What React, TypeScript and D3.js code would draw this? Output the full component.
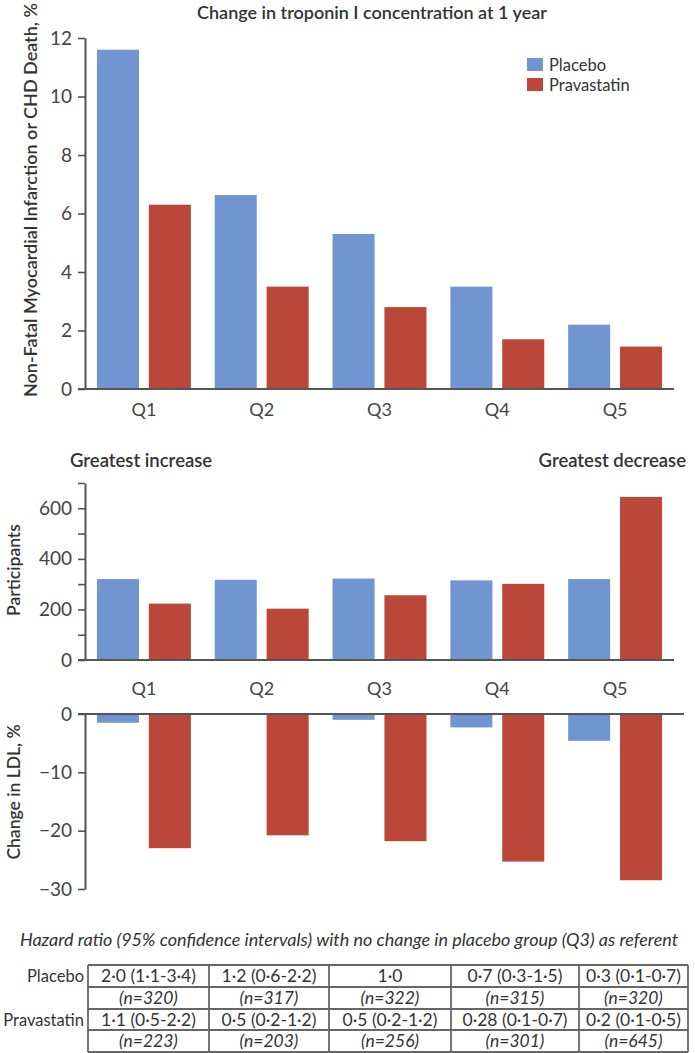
import React, { useEffect, useRef } from 'react';
import * as d3 from 'd3';

// quartiles of change in troponin I
const quartiles = ['Q1', 'Q2', 'Q3', 'Q4', 'Q5'];
const groups = ['Placebo', 'Pravastatin'];

// Non-fatal MI or CHD death, %
const eventPlacebo = [11.6, 6.63, 5.3, 3.5, 2.2];
const eventPrava = [6.3, 3.5, 2.8, 1.7, 1.45];

// participants
const nPlacebo = [320, 317, 322, 315, 320];
const nPrava = [223, 203, 256, 301, 645];

// change in LDL, %
const ldlPlacebo = [-1.5, 0, -1.0, -2.3, -4.6];
const ldlPrava = [-23.0, -20.8, -21.8, -25.3, -28.5];

// hazard ratio table
const hrPlacebo = ['2·0 (1·1-3·4)', '1·2 (0·6-2·2)', '1·0', '0·7 (0·3-1·5)', '0·3 (0·1-0·7)'];
const hrPrava = ['1·1 (0·5-2·2)', '0·5 (0·2-1·2)', '0·5 (0·2-1·2)', '0·28 (0·1-0·7)', '0·2 (0·1-0·5)'];

const BLUE = '#7195d1';
const RED = '#ba4737';
const AXIS = '#555';
const TEXT = '#333';
const FONT = 'Lato, "Open Sans", sans-serif';

const W = 695;
const H = 1053;

export default function App() {
  const ref = useRef<SVGSVGElement>(null);

  useEffect(() => {
    if (ref.current) drawChart(ref.current);
  }, []);

  return (
    <div style={{ position: 'absolute', left: 0, top: 0 }}>
      <svg ref={ref} width={W} height={H} style={{ display: 'block', background: '#fff' }} />
    </div>
  );
}

const drawChart = (el: SVGSVGElement) => {
  const svg = d3.select(el);
  svg.selectAll('*').remove();
  svg.style('font-family', FONT);

  const x = d3.scaleBand().domain(quartiles).range([85, 674]);
  const sub = d3
    .scaleBand()
    .domain(groups)
    .range([0, x.bandwidth()])
    .paddingInner(0.19)
    .paddingOuter(0.23);
  const color = d3.scaleOrdinal<string>().domain(groups).range([BLUE, RED]);

  const styleAxis = (g: any) => {
    g.select('.domain').attr('stroke', AXIS).attr('stroke-width', 2);
    g.selectAll('.tick line').attr('stroke', AXIS).attr('stroke-width', 1.6);
    g.selectAll('.tick text')
      .attr('fill', '#444')
      .style('font-family', FONT)
      .style('font-size', '19px');
  };

  const drawBars = (series: number[][], y: d3.ScaleLinear<number, number>) => {
    groups.forEach((grp, gi) => {
      svg
        .append('g')
        .selectAll('rect')
        .data(series[gi])
        .enter()
        .append('rect')
        .attr('x', (d, i) => (x(quartiles[i]) as number) + (sub(grp) as number))
        .attr('width', sub.bandwidth())
        .attr('y', d => Math.min(y(d), y(0)))
        .attr('height', d => Math.abs(y(d) - y(0)))
        .attr('fill', color(grp));
    });
  };

  const baseline = (yPos: number, x2: number) => {
    svg
      .append('line')
      .attr('x1', 78)
      .attr('x2', x2)
      .attr('y1', yPos)
      .attr('y2', yPos)
      .attr('stroke', AXIS)
      .attr('stroke-width', 2);
  };

  const qLabels = (yPos: number) => {
    svg
      .append('g')
      .selectAll('text')
      .data(quartiles)
      .enter()
      .append('text')
      .attr('x', d => (x(d) as number) + x.bandwidth() / 2)
      .attr('y', yPos)
      .attr('text-anchor', 'middle')
      .attr('fill', '#444')
      .style('font-size', '18px')
      .text(d => d);
  };

  const yLabel = (label: string, cx: number, cy: number, size = 17.5) => {
    svg
      .append('text')
      .attr('transform', `translate(${cx},${cy}) rotate(-90)`)
      .attr('text-anchor', 'middle')
      .attr('fill', TEXT)
      .style('font-size', `${size}px`)
      .style('font-weight', 600)
      .text(label);
  };

  // ---- top: events ----
  svg
    .append('text')
    .attr('x', 372)
    .attr('y', 19)
    .attr('text-anchor', 'middle')
    .attr('fill', TEXT)
    .style('font-size', '18px')
    .style('font-weight', 600)
    .text('Change in troponin I concentration at 1 year');

  const yTop = d3.scaleLinear().domain([0, 12]).range([389, 38]);
  drawBars([eventPlacebo, eventPrava], yTop);
  svg
    .append('g')
    .attr('transform', 'translate(85,0)')
    .call(d3.axisLeft(yTop).tickValues(d3.range(0, 13, 2)).tickSize(7).tickSizeOuter(0).tickPadding(6))
    .call(styleAxis);
  baseline(389, 674);
  qLabels(416);
  yLabel('Non-Fatal Myocardial Infarction or CHD Death, %', 37, 200, 18);

  // legend
  groups.forEach((grp, i) => {
    svg
      .append('rect')
      .attr('x', 527)
      .attr('y', 58 + i * 20)
      .attr('width', 16)
      .attr('height', 13)
      .attr('fill', color(grp));
    svg
      .append('text')
      .attr('x', 549)
      .attr('y', 71 + i * 20)
      .attr('fill', TEXT)
      .style('font-size', '16.5px')
      .text(grp);
  });

  // ---- middle: participants ----
  svg
    .append('text')
    .attr('x', 70)
    .attr('y', 467)
    .attr('fill', TEXT)
    .style('font-size', '18.5px')
    .style('font-weight', 600)
    .text('Greatest increase');
  svg
    .append('text')
    .attr('x', 686)
    .attr('y', 467)
    .attr('text-anchor', 'end')
    .attr('fill', TEXT)
    .style('font-size', '18.5px')
    .style('font-weight', 600)
    .text('Greatest decrease');

  const yMid = d3.scaleLinear().domain([0, 700]).range([660, 483]);
  drawBars([nPlacebo, nPrava], yMid);
  svg
    .append('g')
    .attr('transform', 'translate(85,0)')
    .call(
      d3
        .axisLeft(yMid)
        .tickValues(d3.range(0, 701, 100))
        .tickFormat(d => ((d as number) % 200 === 0 ? String(d) : ''))
        .tickSize(7)
        .tickSizeOuter(0)
        .tickPadding(6)
    )
    .call(styleAxis);
  baseline(660, 674);
  qLabels(695);
  yLabel('Participants', 20, 570);

  // ---- bottom: LDL ----
  const yLow = d3.scaleLinear().domain([-30, 0]).range([889, 714]);
  drawBars([ldlPlacebo, ldlPrava], yLow);
  svg
    .append('g')
    .attr('transform', 'translate(85,0)')
    .call(d3.axisLeft(yLow).tickValues([0, -10, -20, -30]).tickSize(7).tickSizeOuter(0).tickPadding(6))
    .call(styleAxis);
  baseline(714, 684);
  yLabel('Change in LDL, %', 20, 792);

  // ---- table ----
  svg
    .append('text')
    .attr('x', 349)
    .attr('y', 946)
    .attr('text-anchor', 'middle')
    .attr('fill', TEXT)
    .style('font-size', '18px')
    .style('font-style', 'italic')
    .text('Hazard ratio (95% confidence intervals) with no change in placebo group (Q3) as referent');

  const colEdges = [88, 209, 329, 451, 579, 688];
  const rowEdges = [965, 987, 1009, 1030, 1052];
  const rows = [
    hrPlacebo,
    nPlacebo.map(n => `(n=${n})`),
    hrPrava,
    nPrava.map(n => `(n=${n})`),
  ];
  const rowLabels = ['Placebo', '', 'Pravastatin', ''];

  const tg = svg.append('g');
  rows.forEach((row, r) => {
    const y0 = rowEdges[r];
    const y1 = rowEdges[r + 1];
    if (rowLabels[r]) {
      tg.append('text')
        .attr('x', 84)
        .attr('y', (y0 + y1) / 2 + 6)
        .attr('text-anchor', 'end')
        .attr('fill', TEXT)
        .style('font-size', '16.5px')
        .text(rowLabels[r]);
    }
    row.forEach((cell, c) => {
      tg.append('text')
        .attr('x', (colEdges[c] + colEdges[c + 1]) / 2)
        .attr('y', (y0 + y1) / 2 + 6)
        .attr('text-anchor', 'middle')
        .attr('fill', TEXT)
        .style('font-size', '17.5px')
        .style('font-style', r % 2 === 1 ? 'italic' : 'normal')
        .text(cell);
    });
  });
  rowEdges.forEach(y => {
    tg.append('line')
      .attr('x1', colEdges[0])
      .attr('x2', colEdges[colEdges.length - 1])
      .attr('y1', y)
      .attr('y2', y)
      .attr('stroke', '#666')
      .attr('stroke-width', 1.8);
  });
  colEdges.forEach(xv => {
    tg.append('line')
      .attr('x1', xv)
      .attr('x2', xv)
      .attr('y1', rowEdges[0])
      .attr('y2', rowEdges[rowEdges.length - 1])
      .attr('stroke', '#666')
      .attr('stroke-width', 1.8);
  });
};
